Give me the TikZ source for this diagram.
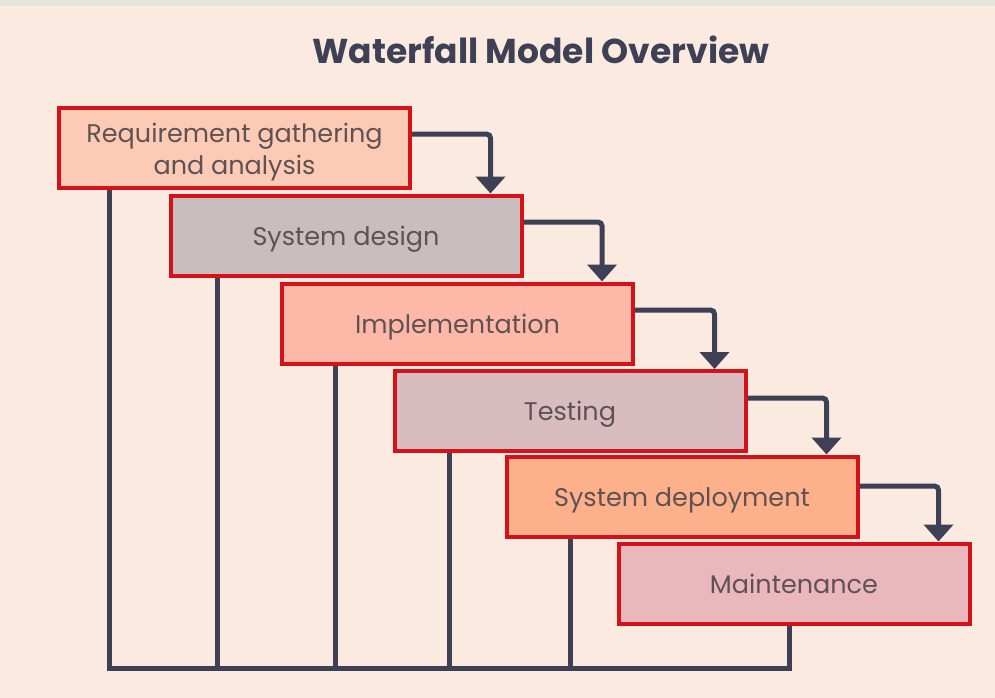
\documentclass[tikz,border=0pt]{standalone}
\usepackage{fontspec}
\setmainfont{Poppins}
\usetikzlibrary{arrows.meta}
\definecolor{bgc}{HTML}{FBEADF}
\definecolor{topc}{HTML}{E3E6DA}
\definecolor{slate}{HTML}{3E4155}
\definecolor{redb}{HTML}{D5121A}
\definecolor{txt}{HTML}{5E5254}
\definecolor{f1}{HTML}{FDCBB5}
\definecolor{f2}{HTML}{C8BEBE}
\definecolor{f3}{HTML}{FDB8A8}
\definecolor{f4}{HTML}{D8BCC0}
\definecolor{f5}{HTML}{FDB08A}
\definecolor{f6}{HTML}{EAB8BC}
\newcommand\stagetext[2]{\raisebox{#1}[0pt][0pt]{#2}}
\tikzset{
  stage/.style={draw=redb, line width=4pt, minimum width=351pt, minimum height=80pt,
    inner sep=0pt, text=txt, font=\fontsize{25.5}{32}\selectfont},
  flow/.style={draw=slate, line width=5pt, rounded corners=4pt,
    -{Triangle[width=29pt,length=17pt]}},
  back/.style={draw=slate, line width=5pt},
}
\begin{document}
\begin{tikzpicture}[x=1pt,y=-1pt]
\fill[bgc] (0,0) rectangle (995,698);
\fill[topc] (0,0) rectangle (995,6);
\useasboundingbox (0,0) rectangle (995,698);
\node[text=slate, font=\bfseries\fontsize{34.5}{40}\selectfont] (title) at (541,50) {Waterfall Model Overview};
\coordinate (c1) at (109,668);
\coordinate (c2) at (217,668);
\coordinate (c3) at (335,668);
\coordinate (c4) at (449,668);
\coordinate (c5) at (570,668);
\coordinate (c6) at (789,668);
\node[stage, fill=f1] (b1) at (234.5,148) {\stagetext{5.5pt}{\begin{tabular}[t]{@{}c@{}}Requirement gathering\\and analysis\end{tabular}}};
\node[stage, fill=f2] (b2) at (346,235.5) {\stagetext{-9.5pt}{System design}};
\node[stage, fill=f3] (b3) at (457.5,323.5) {\stagetext{-9.5pt}{Implementation}};
\node[stage, fill=f4] (b4) at (570,411) {\stagetext{-9.5pt}{Testing}};
\node[stage, fill=f5] (b5) at (682,496.5) {\stagetext{-9.5pt}{System deployment}};
\node[stage, fill=f6] (b6) at (794,583.5) {\stagetext{-9.5pt}{Maintenance}};
\draw[back] (b1.south -| c1) -- (c1);
\draw[back] (b2.south -| c2) -- (c2);
\draw[back] (b3.south -| c3) -- (c3);
\draw[back] (b4.south -| c4) -- (c4);
\draw[back] (b5.south -| c5) -- (c5);
\draw[back] (b6.south -| c6) -- (c6);
\draw[back, line cap=rect] (c1) -- (c6);
\draw[flow] ([yshift=14pt]b1.east) -| ([xshift=-33pt]b2.north east);
\draw[flow] ([yshift=13.5pt]b2.east) -| ([xshift=-33pt]b3.north east);
\draw[flow] ([yshift=13.5pt]b3.east) -| ([xshift=-33pt]b4.north east);
\draw[flow] ([yshift=13pt]b4.east) -| ([xshift=-33pt]b5.north east);
\draw[flow] ([yshift=10.5pt]b5.east) -| ([xshift=-33pt]b6.north east);
\end{tikzpicture}
\end{document}
